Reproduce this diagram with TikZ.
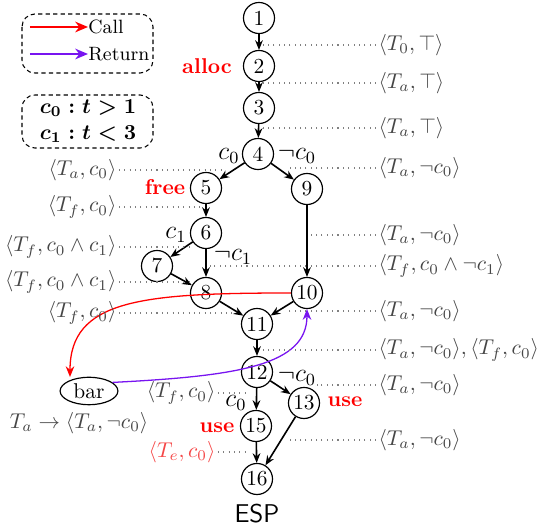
\documentclass[tikz,border=0pt]{standalone}
\usetikzlibrary{arrows.meta,shapes.geometric}
\definecolor{callred}{RGB}{255,0,0}
\definecolor{retpurple}{RGB}{120,20,240}
\definecolor{lblgray}{RGB}{70,70,70}
\definecolor{tered}{RGB}{245,70,70}
\begin{document}
\begin{tikzpicture}[x=0.467pt,y=-0.467pt,
  st/.style={circle,draw,line width=0.55pt,minimum size=14.5pt,inner sep=0.5pt,font=\normalsize},
  ed/.style={-{Stealth[length=4.5pt,width=3.6pt]},line width=0.75pt},
  dt/.style={dotted,gray,line width=0.5pt},
  rl/.style={anchor=west,text=lblgray,inner sep=1pt},
  ll/.style={anchor=east,text=lblgray,inner sep=1pt},
  op/.style={text=callred,font=\bfseries},
  el/.style={font=\large,inner sep=0pt},
  cond/.style={font=\fontsize{10.3}{12}\selectfont\boldmath,inner sep=0pt},
  legbox/.style={draw,dashed,dash pattern=on 2pt off 1.5pt,rounded corners=6pt,line width=0.5pt}]
\useasboundingbox (0,0) rectangle (540,526);
% nodes
\node[st] (n1) at (259,18) {1};
\node[st] (n2) at (259,66) {2};
\node[st] (n3) at (259,108) {3};
\node[st] (n4) at (258,154) {4};
\node[st] (n5) at (206,188) {5};
\node[st] (n9) at (307,189) {9};
\node[st] (n6) at (206,233) {6};
\node[st] (n7) at (157,266) {7};
\node[st] (n8) at (206,293) {8};
\node[st] (n10) at (307,293) {10};
\node[st] (n11) at (257,324) {11};
\node[st] (n12) at (257,372) {12};
\node[st] (n13) at (304,403) {13};
\node[st] (n15) at (256,426) {15};
\node[st] (n16) at (257,479) {16};
\node[font=\sffamily\large] (esp) at (257,514) {ESP};
\node[ellipse,draw,line width=0.55pt,minimum width=27pt,minimum height=9pt,inner sep=1pt] (bar) at (89,391) {bar};
% edges
\draw[ed] (n1) -- (n2);
\draw[ed] (n2) -- (n3);
\draw[ed] (n3) -- (n4);
\draw[ed] (n4) -- (n5);
\draw[ed] (n4) -- (n9);
\draw[ed] (n5) -- (n6);
\draw[ed] (n6) -- (n7);
\draw[ed] (n6) -- (n8);
\draw[ed] (n7) -- (n8);
\draw[ed] (n9) -- (n10);
\draw[ed] (n8) -- (n11);
\draw[ed] (n10) -- (n11);
\draw[ed] (n11) -- (n12);
\draw[ed] (n12) -- (n15);
\draw[ed] (n12) -- (n13);
\draw[ed] (n15) -- (n16);
\draw[ed] (n13) -- (n16);
% call / return
\coordinate (bartop) at (70,377);
\draw[callred,line width=0.6pt,-{Stealth[length=5pt,width=4pt]}] (n10.west) .. controls (140,293) and (70,300) .. (bartop);
\draw[retpurple,line width=0.6pt,-{Stealth[length=5pt,width=4pt]}] (bar.20) .. controls (240,376) and (307,365) .. (n10.south);
% edge labels
\node[el] (lc0a) at (229,156) {$c_0$};
\node[el] (lnc0a) at (297,156) {$\neg c_0$};
\node[el] (lc1) at (176,235) {$c_1$};
\node[el] (lnc1) at (233,257) {$\neg c_1$};
\node[el] (lnc0b) at (297,378) {$\neg c_0$};
\node[el] (lc0b) at (236,403) {$c_0$};
% operation labels
\node[op] (alloc) at (207,66) {alloc};
\node[op] (free) at (165,187) {free};
\node[op] (use1) at (345,402) {use};
\node[op] (use2) at (217,428) {use};
% right labels
\node[rl] (r1) at (376,45) {$\langle T_0, \top\rangle$};
\node[rl] (r2) at (376,83) {$\langle T_a, \top\rangle$};
\node[rl] (r3) at (376,128) {$\langle T_a, \top\rangle$};
\node[rl] (r4) at (376,168) {$\langle T_a, \neg c_0\rangle$};
\node[rl] (r5) at (376,235) {$\langle T_a, \neg c_0\rangle$};
\node[rl] (r6) at (376,266) {$\langle T_f, c_0 \wedge \neg c_1\rangle$};
\node[rl] (r7) at (376,311) {$\langle T_a, \neg c_0\rangle$};
\node[rl] (r8) at (376,350) {$\langle T_a, \neg c_0\rangle, \langle T_f, c_0\rangle$};
\node[rl] (r9) at (376,385) {$\langle T_a, \neg c_0\rangle$};
\node[rl] (r10) at (376,440) {$\langle T_a, \neg c_0\rangle$};
\draw[dt] (r1.west) -- ++(-114,0);
\draw[dt] (r2.west) -- ++(-114,0);
\draw[dt] (r3.west) -- ++(-114,0);
\draw[dt] (r4.west) -- ++(-86,0);
\draw[dt] (r5.west) -- ++(-66,0);
\draw[dt] (r6.west) -- ++(-166,0);
\draw[dt] (r7.west) -- ++(-89,0);
\draw[dt] (r8.west) -- ++(-113,0);
\draw[dt] (r9.west) -- ++(-59,0);
\draw[dt] (r10.west) -- ++(-86,0);
% left labels
\node[ll] (l1) at (119,170) {$\langle T_a, c_0\rangle$};
\node[ll] (l2) at (119,207) {$\langle T_f, c_0\rangle$};
\node[ll] (l3) at (119,247) {$\langle T_f, c_0 \wedge c_1\rangle$};
\node[ll] (l4) at (119,282) {$\langle T_f, c_0 \wedge c_1\rangle$};
\node[ll] (l5) at (119,313) {$\langle T_f, c_0\rangle$};
\node[ll] (l6) at (218,393) {$\langle T_f, c_0\rangle$};
\node[ll,text=tered] (l7) at (218,452) {$\langle T_e, c_0\rangle$};
\draw[dt] (l1.east) -- ++(103,0);
\draw[dt] (l2.east) -- ++(85,0);
\draw[dt] (l3.east) -- ++(71,0);
\draw[dt] (l4.east) -- ++(73,0);
\draw[dt] (l5.east) -- ++(115,0);
\draw[dt] (l6.east) -- ++(29,0);
\draw[dt] (l7.east) -- ++(32,0);
\node[text=lblgray] (summ) at (79,423) {$T_a \to \langle T_a, \neg c_0\rangle$};
% legend
\draw[legbox] (22,14) rectangle (153,73);
\coordinate (ca) at (30,27); \coordinate (cb) at (88,27);
\coordinate (ra) at (30,54); \coordinate (rb) at (88,54);
\draw[callred,line width=0.8pt,-{Stealth[length=6pt,width=5pt]}] (ca) -- (cb);
\draw[retpurple,line width=0.8pt,-{Stealth[length=6pt,width=5pt]}] (ra) -- (rb);
\node[anchor=west,font=\small,inner sep=0pt] (callt) at (88,27) {Call};
\node[anchor=west,font=\small,inner sep=0pt] (rett) at (88,54) {Return};
\draw[legbox] (22,95) rectangle (153,148);
\node[cond] (cnd0) at (88,108) {$c_0 : t > 1$};
\node[cond] (cnd1) at (88,134) {$c_1 : t < 3$};
\end{tikzpicture}
\end{document}
